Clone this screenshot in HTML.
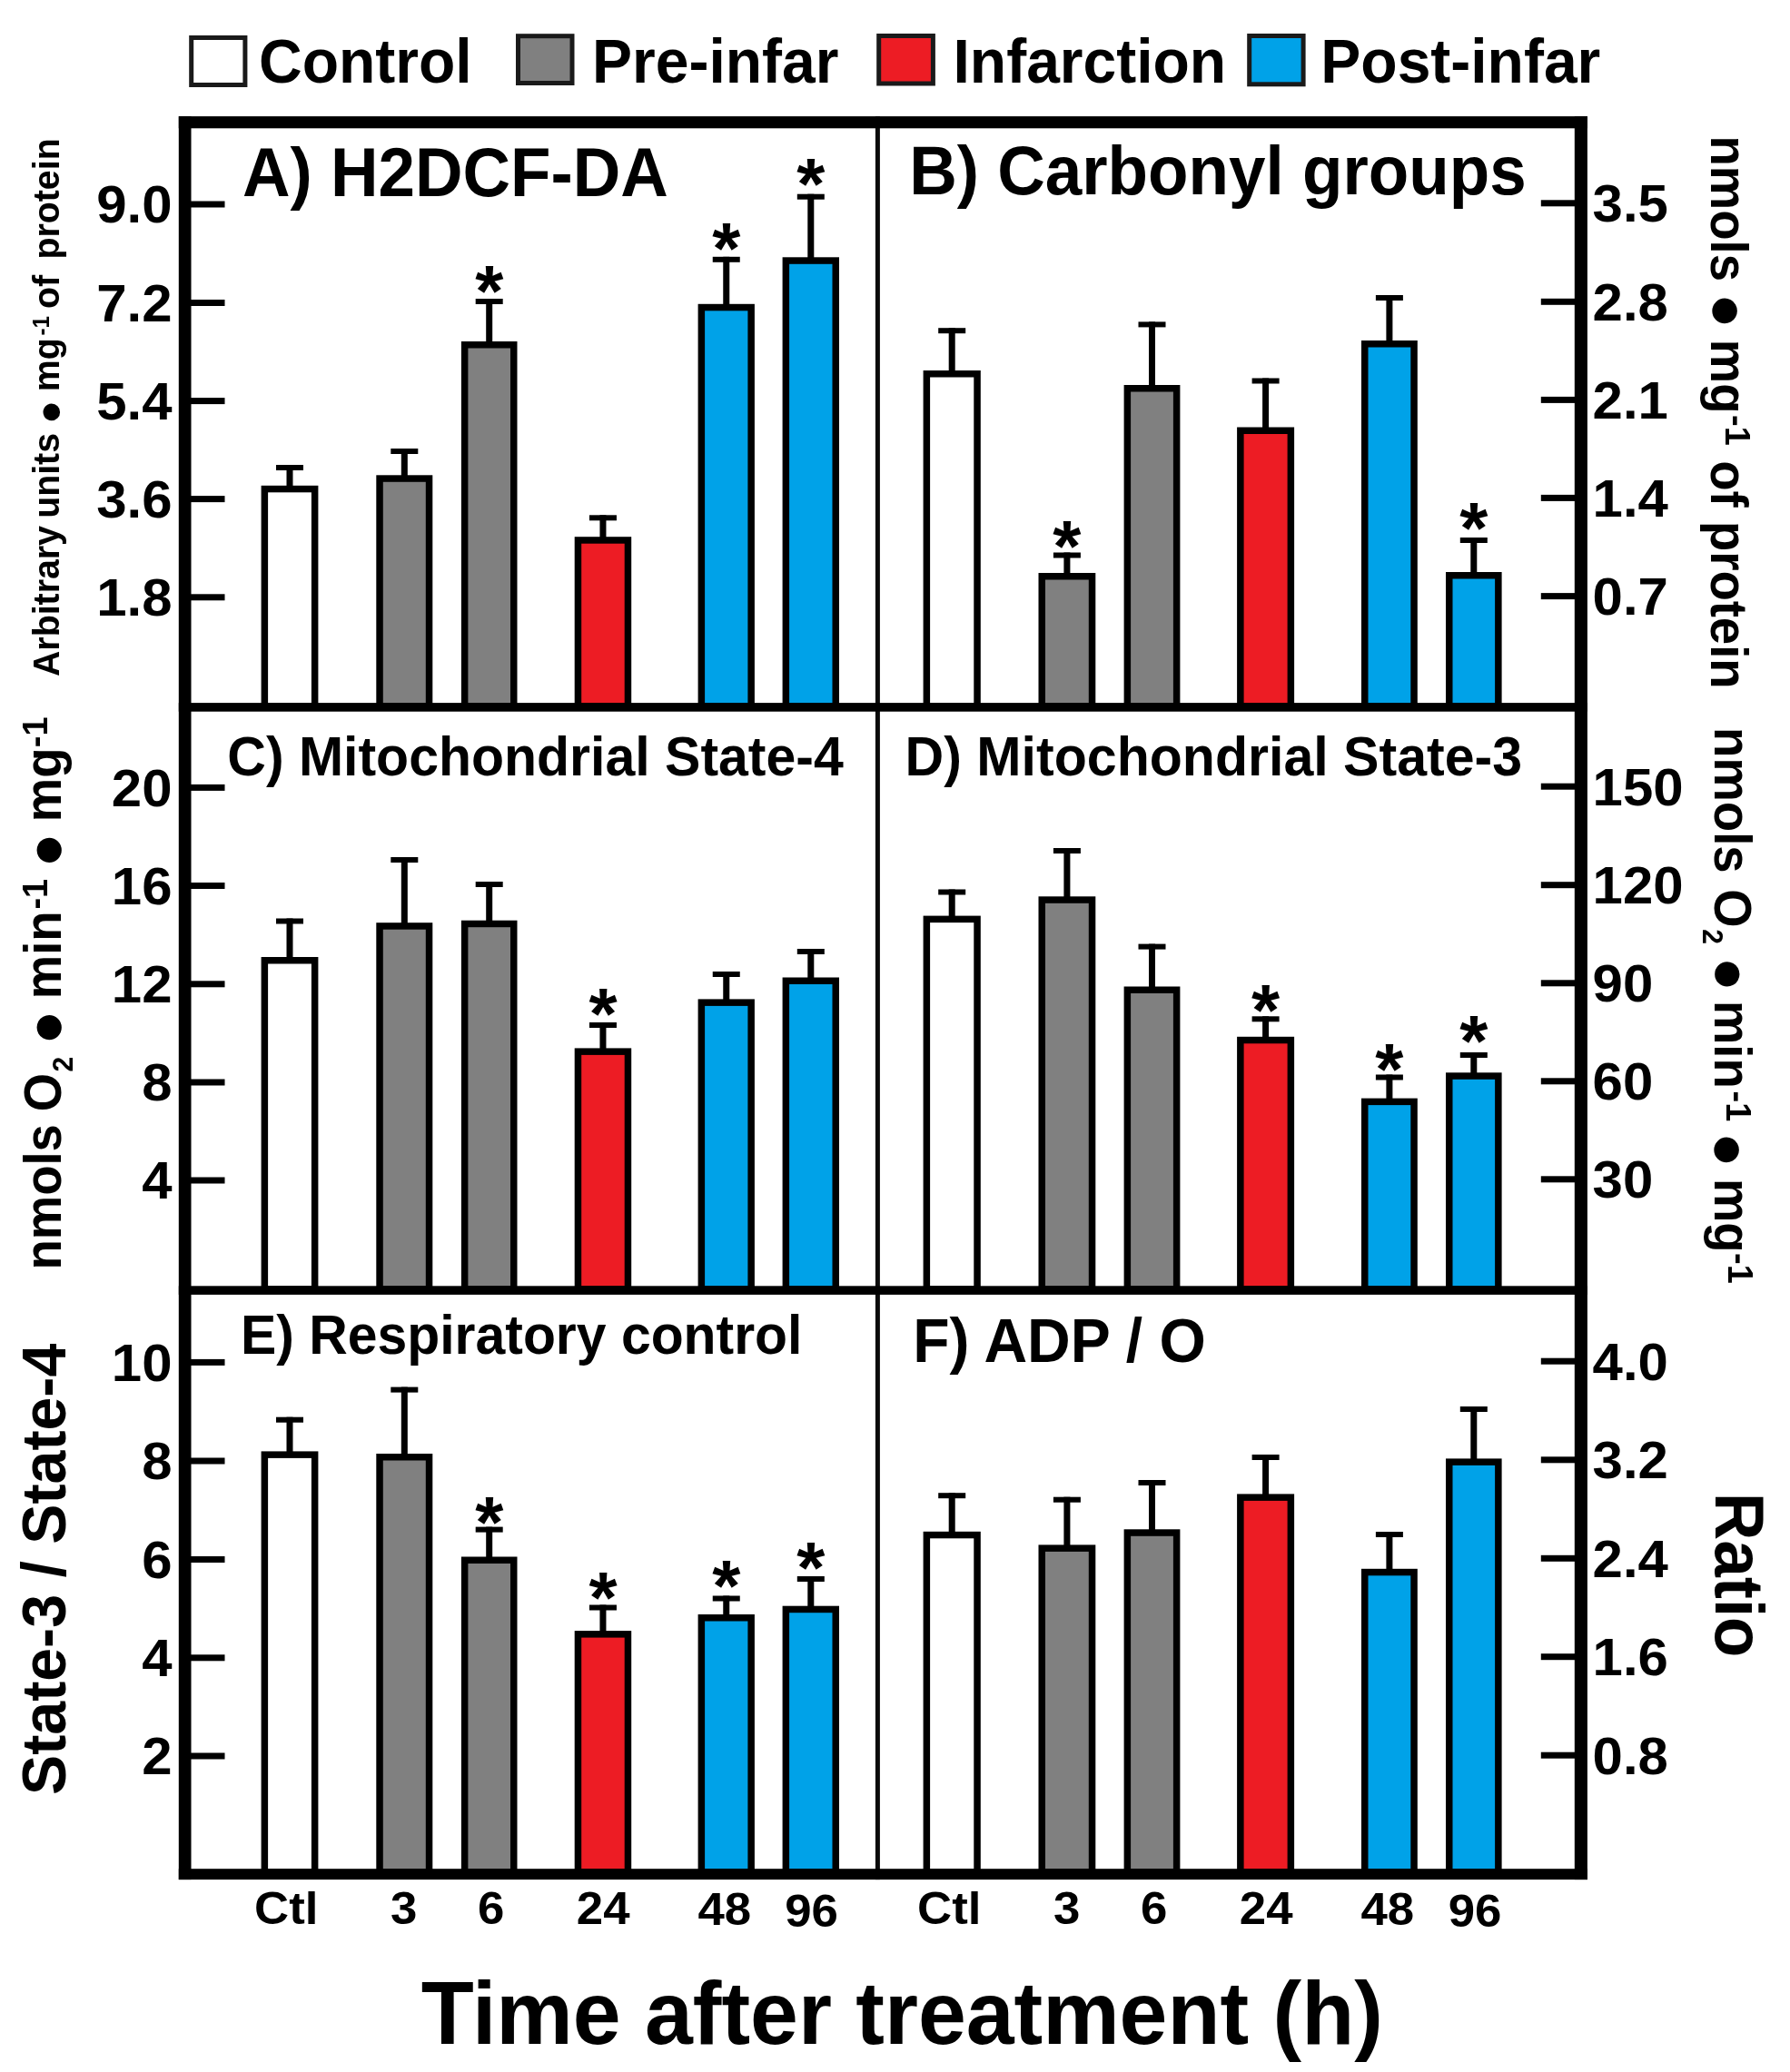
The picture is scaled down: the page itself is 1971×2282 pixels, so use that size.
<!DOCTYPE html>
<html lang="en"><head><meta charset="utf-8"><title>Figure</title>
<style>
html,body{margin:0;padding:0;background:#fff;}
body{width:1971px;height:2282px;overflow:hidden;}
svg{display:block;filter:blur(0.55px);}
.b{font-family:"Liberation Sans",Arial,Helvetica,sans-serif;font-weight:700;fill:#000;}
</style></head><body>
<svg width="1971" height="2282" viewBox="0 0 1971 2282">
<rect width="1971" height="2282" fill="#fff"/>
<g id="bars">
<rect x="315.50" y="512.00" width="7.00" height="24.80" fill="#000000"/>
<rect x="304.00" y="512.00" width="30.00" height="6.00" fill="#000000"/>
<rect x="291.35" y="538.55" width="55.30" height="239.30" fill="#ffffff" stroke="#000000" stroke-width="7.5"/>
<rect x="441.80" y="494.00" width="7.00" height="31.30" fill="#000000"/>
<rect x="430.30" y="494.00" width="30.00" height="6.00" fill="#000000"/>
<rect x="418.05" y="527.05" width="54.50" height="250.80" fill="#808080" stroke="#000000" stroke-width="7.5"/>
<rect x="535.20" y="329.00" width="7.00" height="49.00" fill="#000000"/>
<rect x="523.70" y="329.00" width="30.00" height="6.00" fill="#000000"/>
<rect x="511.65" y="379.75" width="54.10" height="398.10" fill="#808080" stroke="#000000" stroke-width="7.5"/>
<text class="b" transform="translate(538.70,347.76)" font-size="80" text-anchor="middle">*</text>
<rect x="660.45" y="567.30" width="7.00" height="25.90" fill="#000000"/>
<rect x="648.95" y="567.30" width="30.00" height="6.00" fill="#000000"/>
<rect x="636.45" y="594.95" width="55.00" height="182.90" fill="#ed1c24" stroke="#000000" stroke-width="7.5"/>
<rect x="796.25" y="282.80" width="7.00" height="54.00" fill="#000000"/>
<rect x="784.75" y="282.80" width="30.00" height="6.00" fill="#000000"/>
<rect x="772.35" y="338.55" width="54.80" height="439.30" fill="#00a2e8" stroke="#000000" stroke-width="7.5"/>
<text class="b" transform="translate(799.75,300.86)" font-size="80" text-anchor="middle">*</text>
<rect x="889.30" y="213.70" width="7.00" height="71.60" fill="#000000"/>
<rect x="877.80" y="213.70" width="30.00" height="6.00" fill="#000000"/>
<rect x="865.35" y="287.05" width="54.90" height="490.80" fill="#00a2e8" stroke="#000000" stroke-width="7.5"/>
<text class="b" transform="translate(892.80,229.76)" font-size="80" text-anchor="middle">*</text>
<rect x="1044.70" y="361.20" width="7.00" height="48.80" fill="#000000"/>
<rect x="1033.20" y="361.20" width="30.00" height="6.00" fill="#000000"/>
<rect x="1020.35" y="411.75" width="55.70" height="366.10" fill="#ffffff" stroke="#000000" stroke-width="7.5"/>
<rect x="1171.40" y="608.50" width="7.00" height="24.50" fill="#000000"/>
<rect x="1159.90" y="608.50" width="30.00" height="6.00" fill="#000000"/>
<rect x="1147.25" y="634.75" width="55.30" height="143.10" fill="#808080" stroke="#000000" stroke-width="7.5"/>
<text class="b" transform="translate(1174.90,629.26)" font-size="80" text-anchor="middle">*</text>
<rect x="1265.00" y="354.40" width="7.00" height="71.60" fill="#000000"/>
<rect x="1253.50" y="354.40" width="30.00" height="6.00" fill="#000000"/>
<rect x="1241.35" y="427.75" width="54.30" height="350.10" fill="#808080" stroke="#000000" stroke-width="7.5"/>
<rect x="1390.10" y="416.50" width="7.00" height="56.00" fill="#000000"/>
<rect x="1378.60" y="416.50" width="30.00" height="6.00" fill="#000000"/>
<rect x="1365.85" y="474.25" width="55.50" height="303.60" fill="#ed1c24" stroke="#000000" stroke-width="7.5"/>
<rect x="1526.40" y="325.00" width="7.00" height="52.00" fill="#000000"/>
<rect x="1514.90" y="325.00" width="30.00" height="6.00" fill="#000000"/>
<rect x="1502.75" y="378.75" width="54.30" height="399.10" fill="#00a2e8" stroke="#000000" stroke-width="7.5"/>
<rect x="1619.30" y="592.00" width="7.00" height="40.00" fill="#000000"/>
<rect x="1607.80" y="592.00" width="30.00" height="6.00" fill="#000000"/>
<rect x="1595.75" y="633.75" width="54.10" height="144.10" fill="#00a2e8" stroke="#000000" stroke-width="7.5"/>
<text class="b" transform="translate(1622.80,608.66)" font-size="80" text-anchor="middle">*</text>
<rect x="315.50" y="1011.50" width="7.00" height="44.50" fill="#000000"/>
<rect x="304.00" y="1011.50" width="30.00" height="6.00" fill="#000000"/>
<rect x="291.35" y="1057.75" width="55.30" height="362.30" fill="#ffffff" stroke="#000000" stroke-width="7.5"/>
<rect x="441.80" y="944.00" width="7.00" height="74.20" fill="#000000"/>
<rect x="430.30" y="944.00" width="30.00" height="6.00" fill="#000000"/>
<rect x="418.05" y="1019.95" width="54.50" height="400.10" fill="#808080" stroke="#000000" stroke-width="7.5"/>
<rect x="535.20" y="971.00" width="7.00" height="44.70" fill="#000000"/>
<rect x="523.70" y="971.00" width="30.00" height="6.00" fill="#000000"/>
<rect x="511.65" y="1017.45" width="54.10" height="402.60" fill="#808080" stroke="#000000" stroke-width="7.5"/>
<rect x="660.45" y="1126.00" width="7.00" height="30.40" fill="#000000"/>
<rect x="648.95" y="1126.00" width="30.00" height="6.00" fill="#000000"/>
<rect x="636.45" y="1158.15" width="55.00" height="261.90" fill="#ed1c24" stroke="#000000" stroke-width="7.5"/>
<text class="b" transform="translate(663.95,1144.16)" font-size="80" text-anchor="middle">*</text>
<rect x="796.25" y="1070.00" width="7.00" height="32.40" fill="#000000"/>
<rect x="784.75" y="1070.00" width="30.00" height="6.00" fill="#000000"/>
<rect x="772.35" y="1104.15" width="54.80" height="315.90" fill="#00a2e8" stroke="#000000" stroke-width="7.5"/>
<rect x="889.30" y="1045.00" width="7.00" height="33.50" fill="#000000"/>
<rect x="877.80" y="1045.00" width="30.00" height="6.00" fill="#000000"/>
<rect x="865.35" y="1080.25" width="54.90" height="339.80" fill="#00a2e8" stroke="#000000" stroke-width="7.5"/>
<rect x="1044.70" y="979.50" width="7.00" height="31.10" fill="#000000"/>
<rect x="1033.20" y="979.50" width="30.00" height="6.00" fill="#000000"/>
<rect x="1020.35" y="1012.35" width="55.70" height="407.70" fill="#ffffff" stroke="#000000" stroke-width="7.5"/>
<rect x="1171.40" y="934.00" width="7.00" height="55.30" fill="#000000"/>
<rect x="1159.90" y="934.00" width="30.00" height="6.00" fill="#000000"/>
<rect x="1147.25" y="991.05" width="55.30" height="429.00" fill="#808080" stroke="#000000" stroke-width="7.5"/>
<rect x="1265.00" y="1039.60" width="7.00" height="48.90" fill="#000000"/>
<rect x="1253.50" y="1039.60" width="30.00" height="6.00" fill="#000000"/>
<rect x="1241.35" y="1090.25" width="54.30" height="329.80" fill="#808080" stroke="#000000" stroke-width="7.5"/>
<rect x="1390.10" y="1119.30" width="7.00" height="24.50" fill="#000000"/>
<rect x="1378.60" y="1119.30" width="30.00" height="6.00" fill="#000000"/>
<rect x="1365.85" y="1145.55" width="55.50" height="274.50" fill="#ed1c24" stroke="#000000" stroke-width="7.5"/>
<text class="b" transform="translate(1393.60,1139.76)" font-size="80" text-anchor="middle">*</text>
<rect x="1526.40" y="1183.50" width="7.00" height="28.10" fill="#000000"/>
<rect x="1514.90" y="1183.50" width="30.00" height="6.00" fill="#000000"/>
<rect x="1502.75" y="1213.35" width="54.30" height="206.70" fill="#00a2e8" stroke="#000000" stroke-width="7.5"/>
<text class="b" transform="translate(1529.90,1204.66)" font-size="80" text-anchor="middle">*</text>
<rect x="1619.30" y="1159.00" width="7.00" height="24.30" fill="#000000"/>
<rect x="1607.80" y="1159.00" width="30.00" height="6.00" fill="#000000"/>
<rect x="1595.75" y="1185.05" width="54.10" height="235.00" fill="#00a2e8" stroke="#000000" stroke-width="7.5"/>
<text class="b" transform="translate(1622.80,1173.96)" font-size="80" text-anchor="middle">*</text>
<rect x="315.50" y="1560.70" width="7.00" height="39.70" fill="#000000"/>
<rect x="304.00" y="1560.70" width="30.00" height="6.00" fill="#000000"/>
<rect x="291.35" y="1602.15" width="55.30" height="459.80" fill="#ffffff" stroke="#000000" stroke-width="7.5"/>
<rect x="441.80" y="1527.60" width="7.00" height="75.40" fill="#000000"/>
<rect x="430.30" y="1527.60" width="30.00" height="6.00" fill="#000000"/>
<rect x="418.05" y="1604.75" width="54.50" height="457.20" fill="#808080" stroke="#000000" stroke-width="7.5"/>
<rect x="535.20" y="1681.60" width="7.00" height="34.90" fill="#000000"/>
<rect x="523.70" y="1681.60" width="30.00" height="6.00" fill="#000000"/>
<rect x="511.65" y="1718.25" width="54.10" height="343.70" fill="#808080" stroke="#000000" stroke-width="7.5"/>
<text class="b" transform="translate(538.70,1703.86)" font-size="80" text-anchor="middle">*</text>
<rect x="660.45" y="1767.50" width="7.00" height="30.60" fill="#000000"/>
<rect x="648.95" y="1767.50" width="30.00" height="6.00" fill="#000000"/>
<rect x="636.45" y="1799.85" width="55.00" height="262.10" fill="#ed1c24" stroke="#000000" stroke-width="7.5"/>
<text class="b" transform="translate(663.95,1786.76)" font-size="80" text-anchor="middle">*</text>
<rect x="796.25" y="1757.50" width="7.00" height="22.50" fill="#000000"/>
<rect x="784.75" y="1757.50" width="30.00" height="6.00" fill="#000000"/>
<rect x="772.35" y="1781.75" width="54.80" height="280.20" fill="#00a2e8" stroke="#000000" stroke-width="7.5"/>
<text class="b" transform="translate(799.75,1774.16)" font-size="80" text-anchor="middle">*</text>
<rect x="889.30" y="1736.00" width="7.00" height="34.70" fill="#000000"/>
<rect x="877.80" y="1736.00" width="30.00" height="6.00" fill="#000000"/>
<rect x="865.35" y="1772.45" width="54.90" height="289.50" fill="#00a2e8" stroke="#000000" stroke-width="7.5"/>
<text class="b" transform="translate(892.80,1754.16)" font-size="80" text-anchor="middle">*</text>
<rect x="1044.70" y="1644.20" width="7.00" height="44.60" fill="#000000"/>
<rect x="1033.20" y="1644.20" width="30.00" height="6.00" fill="#000000"/>
<rect x="1020.35" y="1690.55" width="55.70" height="371.40" fill="#ffffff" stroke="#000000" stroke-width="7.5"/>
<rect x="1171.40" y="1648.70" width="7.00" height="54.70" fill="#000000"/>
<rect x="1159.90" y="1648.70" width="30.00" height="6.00" fill="#000000"/>
<rect x="1147.25" y="1705.15" width="55.30" height="356.80" fill="#808080" stroke="#000000" stroke-width="7.5"/>
<rect x="1265.00" y="1630.00" width="7.00" height="56.30" fill="#000000"/>
<rect x="1253.50" y="1630.00" width="30.00" height="6.00" fill="#000000"/>
<rect x="1241.35" y="1688.05" width="54.30" height="373.90" fill="#808080" stroke="#000000" stroke-width="7.5"/>
<rect x="1390.10" y="1602.00" width="7.00" height="45.40" fill="#000000"/>
<rect x="1378.60" y="1602.00" width="30.00" height="6.00" fill="#000000"/>
<rect x="1365.85" y="1649.15" width="55.50" height="412.80" fill="#ed1c24" stroke="#000000" stroke-width="7.5"/>
<rect x="1526.40" y="1687.00" width="7.00" height="42.80" fill="#000000"/>
<rect x="1514.90" y="1687.00" width="30.00" height="6.00" fill="#000000"/>
<rect x="1502.75" y="1731.55" width="54.30" height="330.40" fill="#00a2e8" stroke="#000000" stroke-width="7.5"/>
<rect x="1619.30" y="1549.00" width="7.00" height="59.40" fill="#000000"/>
<rect x="1607.80" y="1549.00" width="30.00" height="6.00" fill="#000000"/>
<rect x="1595.75" y="1610.15" width="54.10" height="451.80" fill="#00a2e8" stroke="#000000" stroke-width="7.5"/>
</g>
<g id="frame">
<rect x="963.90" y="128.10" width="5.00" height="1942.00" fill="#0a0a0a"/>
<rect x="196.80" y="774.10" width="1551.10" height="9.60" fill="#000000"/>
<rect x="196.80" y="1416.30" width="1551.10" height="9.60" fill="#000000"/>
<rect x="196.80" y="128.10" width="13.70" height="1942.00" fill="#000000"/>
<rect x="1733.80" y="128.10" width="14.10" height="1942.00" fill="#000000"/>
<rect x="196.80" y="128.10" width="1551.10" height="13.20" fill="#000000"/>
<rect x="196.80" y="2058.20" width="1551.10" height="11.90" fill="#000000"/>
</g>
<g id="ticks">
<rect x="209.50" y="221.50" width="38.00" height="7.00" fill="#000000"/>
<rect x="1696.80" y="220.30" width="38.00" height="7.00" fill="#000000"/>
<text class="b" transform="translate(189.50,245.30) scale(1.04,1.0)" font-size="57.6" text-anchor="end">9.0</text>
<text class="b" transform="translate(1753.60,244.10) scale(1.04,1.0)" font-size="57.6">3.5</text>
<rect x="209.50" y="330.00" width="38.00" height="7.00" fill="#000000"/>
<rect x="1696.80" y="328.80" width="38.00" height="7.00" fill="#000000"/>
<text class="b" transform="translate(189.50,353.80) scale(1.04,1.0)" font-size="57.6" text-anchor="end">7.2</text>
<text class="b" transform="translate(1753.60,352.60) scale(1.04,1.0)" font-size="57.6">2.8</text>
<rect x="209.50" y="438.10" width="38.00" height="7.00" fill="#000000"/>
<rect x="1696.80" y="436.90" width="38.00" height="7.00" fill="#000000"/>
<text class="b" transform="translate(189.50,461.90) scale(1.04,1.0)" font-size="57.6" text-anchor="end">5.4</text>
<text class="b" transform="translate(1753.60,460.70) scale(1.04,1.0)" font-size="57.6">2.1</text>
<rect x="209.50" y="546.10" width="38.00" height="7.00" fill="#000000"/>
<rect x="1696.80" y="544.90" width="38.00" height="7.00" fill="#000000"/>
<text class="b" transform="translate(189.50,569.90) scale(1.04,1.0)" font-size="57.6" text-anchor="end">3.6</text>
<text class="b" transform="translate(1753.60,568.70) scale(1.04,1.0)" font-size="57.6">1.4</text>
<rect x="209.50" y="654.30" width="38.00" height="7.00" fill="#000000"/>
<rect x="1696.80" y="653.10" width="38.00" height="7.00" fill="#000000"/>
<text class="b" transform="translate(189.50,678.10) scale(1.04,1.0)" font-size="57.6" text-anchor="end">1.8</text>
<text class="b" transform="translate(1753.60,676.90) scale(1.04,1.0)" font-size="57.6">0.7</text>
<rect x="209.50" y="863.90" width="38.00" height="7.00" fill="#000000"/>
<rect x="1696.80" y="862.70" width="38.00" height="7.00" fill="#000000"/>
<text class="b" transform="translate(189.50,887.70) scale(1.04,1.0)" font-size="57.6" text-anchor="end">20</text>
<text class="b" transform="translate(1753.60,886.50) scale(1.04,1.0)" font-size="57.6">150</text>
<rect x="209.50" y="972.00" width="38.00" height="7.00" fill="#000000"/>
<rect x="1696.80" y="971.20" width="38.00" height="7.00" fill="#000000"/>
<text class="b" transform="translate(189.50,995.80) scale(1.04,1.0)" font-size="57.6" text-anchor="end">16</text>
<text class="b" transform="translate(1753.60,995.00) scale(1.04,1.0)" font-size="57.6">120</text>
<rect x="209.50" y="1080.30" width="38.00" height="7.00" fill="#000000"/>
<rect x="1696.80" y="1079.30" width="38.00" height="7.00" fill="#000000"/>
<text class="b" transform="translate(189.50,1104.10) scale(1.04,1.0)" font-size="57.6" text-anchor="end">12</text>
<text class="b" transform="translate(1753.60,1103.10) scale(1.04,1.0)" font-size="57.6">90</text>
<rect x="209.50" y="1188.50" width="38.00" height="7.00" fill="#000000"/>
<rect x="1696.80" y="1187.30" width="38.00" height="7.00" fill="#000000"/>
<text class="b" transform="translate(189.50,1212.30) scale(1.04,1.0)" font-size="57.6" text-anchor="end">8</text>
<text class="b" transform="translate(1753.60,1211.10) scale(1.04,1.0)" font-size="57.6">60</text>
<rect x="209.50" y="1296.50" width="38.00" height="7.00" fill="#000000"/>
<rect x="1696.80" y="1295.30" width="38.00" height="7.00" fill="#000000"/>
<text class="b" transform="translate(189.50,1320.30) scale(1.04,1.0)" font-size="57.6" text-anchor="end">4</text>
<text class="b" transform="translate(1753.60,1319.10) scale(1.04,1.0)" font-size="57.6">30</text>
<rect x="209.50" y="1496.90" width="38.00" height="7.00" fill="#000000"/>
<rect x="1696.80" y="1495.70" width="38.00" height="7.00" fill="#000000"/>
<text class="b" transform="translate(189.50,1520.70) scale(1.04,1.0)" font-size="57.6" text-anchor="end">10</text>
<text class="b" transform="translate(1753.60,1519.50) scale(1.04,1.0)" font-size="57.6">4.0</text>
<rect x="209.50" y="1605.50" width="38.00" height="7.00" fill="#000000"/>
<rect x="1696.80" y="1604.30" width="38.00" height="7.00" fill="#000000"/>
<text class="b" transform="translate(189.50,1629.30) scale(1.04,1.0)" font-size="57.6" text-anchor="end">8</text>
<text class="b" transform="translate(1753.60,1628.10) scale(1.04,1.0)" font-size="57.6">3.2</text>
<rect x="209.50" y="1714.00" width="38.00" height="7.00" fill="#000000"/>
<rect x="1696.80" y="1712.80" width="38.00" height="7.00" fill="#000000"/>
<text class="b" transform="translate(189.50,1737.80) scale(1.04,1.0)" font-size="57.6" text-anchor="end">6</text>
<text class="b" transform="translate(1753.60,1736.60) scale(1.04,1.0)" font-size="57.6">2.4</text>
<rect x="209.50" y="1822.30" width="38.00" height="7.00" fill="#000000"/>
<rect x="1696.80" y="1821.20" width="38.00" height="7.00" fill="#000000"/>
<text class="b" transform="translate(189.50,1846.10) scale(1.04,1.0)" font-size="57.6" text-anchor="end">4</text>
<text class="b" transform="translate(1753.60,1845.00) scale(1.04,1.0)" font-size="57.6">1.6</text>
<rect x="209.50" y="1930.50" width="38.00" height="7.00" fill="#000000"/>
<rect x="1696.80" y="1929.70" width="38.00" height="7.00" fill="#000000"/>
<text class="b" transform="translate(189.50,1954.30) scale(1.04,1.0)" font-size="57.6" text-anchor="end">2</text>
<text class="b" transform="translate(1753.60,1953.50) scale(1.04,1.0)" font-size="57.6">0.8</text>
</g>
<g id="legend">
<rect x="210.7" y="41.5" width="59.19999999999999" height="52" fill="#ffffff" stroke="#1a1a1a" stroke-width="5"/>
<rect x="570.5" y="39.7" width="59.5" height="51.8" fill="#808080" stroke="#1a1a1a" stroke-width="5"/>
<rect x="967.7" y="39.5" width="59.700000000000045" height="52.5" fill="#ed1c24" stroke="#1a1a1a" stroke-width="5"/>
<rect x="1375.7" y="39.5" width="59.399999999999864" height="53.3" fill="#00a2e8" stroke="#1a1a1a" stroke-width="5"/>
<text class="b" transform="translate(285.00,90.70) scale(1,1.04)" font-size="66">Control</text>
<text class="b" transform="translate(652.00,90.70) scale(1,1.04)" font-size="66">Pre-infar</text>
<text class="b" transform="translate(1049.50,90.70) scale(1,1.04)" font-size="66">Infarction</text>
<text class="b" transform="translate(1454.30,90.70) scale(1,1.04)" font-size="66">Post-infar</text>
</g>
<g id="titles">
<text class="b" transform="translate(267.00,216.00) scale(1,1.04)" font-size="72.75">A) H2DCF-DA</text>
<text class="b" transform="translate(1001.20,214.00) scale(1,1.04)" font-size="72.8">B) Carbonyl groups</text>
<text class="b" transform="translate(250.30,854.30) scale(1,1.04)" font-size="59">C) Mitochondrial State-4</text>
<text class="b" transform="translate(996.60,853.60) scale(1,1.04)" font-size="59.1">D) Mitochondrial State-3</text>
<text class="b" transform="translate(265.00,1491.00) scale(1,1.04)" font-size="58.9">E) Respiratory control</text>
<text class="b" transform="translate(1005.20,1499.60) scale(1,1.04)" font-size="66">F) ADP / O</text>
</g>
<g id="xlabels">
<text class="b" transform="translate(315.30,2118.50) scale(1.1,1.04)" font-size="48" text-anchor="middle">Ctl</text>
<text class="b" transform="translate(444.80,2118.50) scale(1.1,1.04)" font-size="48" text-anchor="middle">3</text>
<text class="b" transform="translate(540.60,2118.50) scale(1.1,1.04)" font-size="48" text-anchor="middle">6</text>
<text class="b" transform="translate(664.20,2118.50) scale(1.1,1.04)" font-size="48" text-anchor="middle">24</text>
<text class="b" transform="translate(797.80,2119.50) scale(1.1,1.04)" font-size="48" text-anchor="middle">48</text>
<text class="b" transform="translate(893.60,2121.50) scale(1.1,1.04)" font-size="48" text-anchor="middle">96</text>
<text class="b" transform="translate(1045.30,2118.50) scale(1.1,1.04)" font-size="48" text-anchor="middle">Ctl</text>
<text class="b" transform="translate(1174.80,2118.50) scale(1.1,1.04)" font-size="48" text-anchor="middle">3</text>
<text class="b" transform="translate(1270.60,2118.50) scale(1.1,1.04)" font-size="48" text-anchor="middle">6</text>
<text class="b" transform="translate(1394.20,2118.50) scale(1.1,1.04)" font-size="48" text-anchor="middle">24</text>
<text class="b" transform="translate(1527.80,2119.50) scale(1.1,1.04)" font-size="48" text-anchor="middle">48</text>
<text class="b" transform="translate(1624.00,2121.50) scale(1.1,1.04)" font-size="48" text-anchor="middle">96</text>
<text class="b" transform="translate(993.20,2251.00) scale(1,1.04)" font-size="95" text-anchor="middle">Time after treatment (h)</text>
</g>
<g id="ylabels">
<text class="b" transform="translate(64.80,745.00) rotate(-90) scale(1,1.04)" font-size="39.3">Arbitrary</text>
<text class="b" transform="translate(64.80,570.80) rotate(-90) scale(1,1.04)" font-size="39.3">units</text>
<text class="b" transform="translate(69.30,467.06) rotate(-90)" font-size="43.3">●</text>
<text class="b" transform="translate(64.80,431.20) rotate(-90) scale(1,1.04)" font-size="39.3">mg</text>
<text class="b" transform="translate(54.00,369.50) rotate(-90) scale(1,1.04)" font-size="24">-1</text>
<text class="b" transform="translate(64.80,340.10) rotate(-90) scale(1,1.04)" font-size="39.3">of</text>
<text class="b" transform="translate(64.80,285.50) rotate(-90) scale(1,1.04)" font-size="39.3">protein</text>
<text class="b" transform="translate(67.10,1398.60) rotate(-90) scale(1,1.04)" font-size="54.5">nmols</text>
<text class="b" transform="translate(67.10,1224.20) rotate(-90) scale(1,1.04)" font-size="54.5">O</text>
<text class="b" transform="translate(80.30,1180.40) rotate(-90) scale(1,1.04)" font-size="30">2</text>
<text class="b" transform="translate(71.50,1150.87) rotate(-90)" font-size="63.5">●</text>
<text class="b" transform="translate(67.10,1100.30) rotate(-90) scale(1,1.04)" font-size="54.5">min</text>
<text class="b" transform="translate(51.70,1001.60) rotate(-90) scale(1,1.04)" font-size="38">-1</text>
<text class="b" transform="translate(71.50,955.57) rotate(-90)" font-size="63.5">●</text>
<text class="b" transform="translate(67.10,905.30) rotate(-90) scale(1,1.04)" font-size="54.5">mg</text>
<text class="b" transform="translate(51.70,823.20) rotate(-90) scale(1,1.04)" font-size="38">-1</text>
<text class="b" transform="translate(72.20,1977.00) rotate(-90) scale(1,1.04)" font-size="66.3">State-3 / State-4</text>
<text class="b" transform="translate(1883.90,149.50) rotate(90) scale(1,1.04)" font-size="54.5">nmols</text>
<text class="b" transform="translate(1880.50,322.92) rotate(90)" font-size="64.2">●</text>
<text class="b" transform="translate(1883.90,373.70) rotate(90) scale(1,1.04)" font-size="54.5">mg</text>
<text class="b" transform="translate(1900.20,457.00) rotate(90) scale(1,1.04)" font-size="38">-1</text>
<text class="b" transform="translate(1883.90,507.30) rotate(90) scale(1,1.04)" font-size="54.5">of</text>
<text class="b" transform="translate(1883.90,573.90) rotate(90) scale(1,1.04)" font-size="54.5">protein</text>
<text class="b" transform="translate(1887.80,801.10) rotate(90) scale(1,1.04)" font-size="54.5">nmols</text>
<text class="b" transform="translate(1887.80,979.30) rotate(90) scale(1,1.04)" font-size="54.5">O</text>
<text class="b" transform="translate(1874.70,1023.20) rotate(90) scale(1,1.04)" font-size="30">2</text>
<text class="b" transform="translate(1883.80,1053.83) rotate(90)" font-size="63.5">●</text>
<text class="b" transform="translate(1887.80,1101.90) rotate(90) scale(1,1.04)" font-size="54.5">min</text>
<text class="b" transform="translate(1901.00,1201.60) rotate(90) scale(1,1.04)" font-size="38">-1</text>
<text class="b" transform="translate(1883.20,1247.02) rotate(90)" font-size="64.2">●</text>
<text class="b" transform="translate(1887.80,1297.90) rotate(90) scale(1,1.04)" font-size="54.5">mg</text>
<text class="b" transform="translate(1903.00,1380.00) rotate(90) scale(1,1.04)" font-size="38">-1</text>
<text class="b" transform="translate(1889.40,1644.10) rotate(90) scale(1,1.055)" font-size="72.5">Ratio</text>
</g>
</svg>
</body></html>
